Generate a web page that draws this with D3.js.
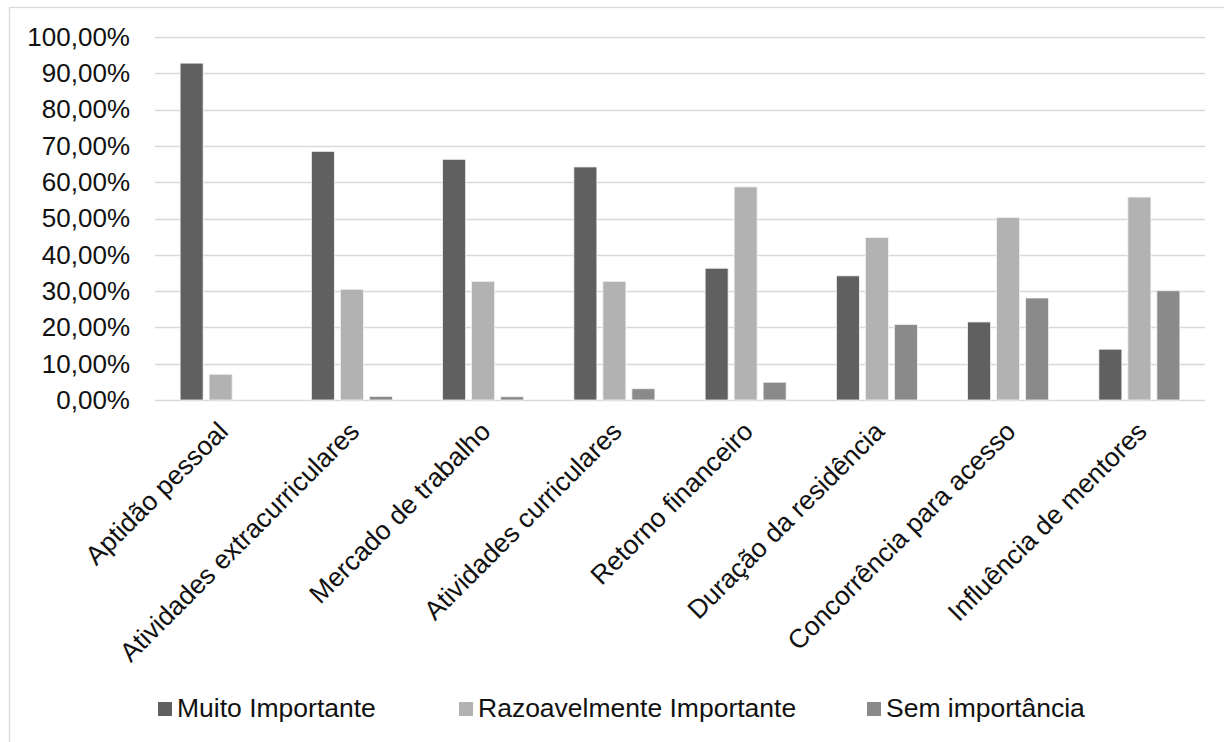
<!DOCTYPE html>
<html>
<head>
<meta charset="utf-8">
<script src="https://cdn.jsdelivr.net/npm/d3@7"></script>
<style>
  html, body { margin: 0; padding: 0; background: #fff; }
  svg { display: block; font-family: "Liberation Sans", Arial, sans-serif; }
</style>
</head>
<body>
<svg id="chart" width="1224" height="742"></svg>
<script>
// Fatores na escolha da especialidade
const categories = [
  "Aptidão pessoal",
  "Atividades extracurriculares",
  "Mercado de trabalho",
  "Atividades curriculares",
  "Retorno financeiro",
  "Duração da residência",
  "Concorrência para acesso",
  "Influência de mentores"
];
const seriesNames = ["Muito Importante", "Razoavelmente Importante", "Sem importância"];
const muitoImportante = [92.8, 68.5, 66.3, 64.2, 36.3, 34.2, 21.5, 14.0];
const razoavelmenteImportante = [7.1, 30.5, 32.7, 32.7, 58.7, 44.8, 50.3, 55.9];
const semImportancia = [0.0, 1.0, 0.9, 3.1, 4.9, 20.8, 28.1, 30.1];
const yTicks = [0, 10, 20, 30, 40, 50, 60, 70, 80, 90, 100];
const seriesColors = ["#606060", "#b2b2b2", "#8a8a8a"];

const seriesValues = [muitoImportante, razoavelmenteImportante, semImportancia];

const svg = d3.select("#chart");
const plot = { left: 155, right: 1205, top: 37, bottom: 400 };

// Chart area border
svg.append("rect")
  .attr("x", 9.5).attr("y", 7.5)
  .attr("width", 1230).attr("height", 760)
  .attr("fill", "#fff")
  .attr("stroke", "#d9d9d9").attr("stroke-width", 1.3);

const y = d3.scaleLinear().domain([0, 100]).range([plot.bottom, plot.top]);
const x0 = d3.scaleBand().domain(categories).range([plot.left, plot.right]).padding(0);
const x1 = d3.scaleBand().domain(seriesNames)
  .range([0, x0.bandwidth()])
  .paddingInner(0.207).paddingOuter(0.866);

const fmt = v => d3.format(".2f")(v).replace(".", ",") + "%";

// Horizontal gridlines
svg.append("g")
  .selectAll("line")
  .data(yTicks)
  .join("line")
  .attr("x1", plot.left).attr("x2", plot.right)
  .attr("y1", d => Math.round(y(d)) + 0.5).attr("y2", d => Math.round(y(d)) + 0.5)
  .attr("stroke", "#d9d9d9").attr("stroke-width", 1.4);

// Y axis labels
const yAxis = d3.axisLeft(y).tickValues(yTicks).tickFormat(fmt).tickSize(0).tickPadding(0);
const yg = svg.append("g").attr("transform", `translate(130,0)`).call(yAxis);
yg.select(".domain").remove();
yg.selectAll("text")
  .attr("font-size", 26)
  .attr("font-family", "Liberation Sans, Arial, sans-serif")
  .attr("fill", "#111");

// Bars
const groups = svg.append("g")
  .selectAll("g")
  .data(categories)
  .join("g")
  .attr("transform", d => `translate(${x0(d)},0)`);

groups.selectAll("rect")
  .data((c, i) => seriesNames.map((s, k) => ({ s, k, v: seriesValues[k][i] })))
  .join("rect")
  .attr("x", d => x1(d.s))
  .attr("width", x1.bandwidth())
  .attr("y", d => y(d.v))
  .attr("height", d => y(0) - y(d.v))
  .attr("fill", d => seriesColors[d.k])
  .attr("stroke", d => d.v > 0 ? "#f2f2f2" : "none")
  .attr("stroke-width", 0.8);

// Category labels, rotated
const xAxis = d3.axisBottom(x0).tickSize(0).tickPadding(0);
const xg = svg.append("g").attr("transform", `translate(0,${plot.bottom})`).call(xAxis);
xg.select(".domain").remove();
xg.selectAll("text")
  .attr("font-size", 26.5)
  .attr("font-family", "Liberation Sans, Arial, sans-serif")
  .attr("fill", "#111")
  .attr("text-anchor", "end")
  .attr("dy", "0.35em")
  .attr("y", 0)
  .attr("transform", "translate(2.5,26.5) rotate(-45)");

// Legend
const legendX = [158, 459, 867];
const legend = svg.append("g")
  .selectAll("g")
  .data(seriesNames)
  .join("g")
  .attr("transform", (d, i) => `translate(${legendX[i]},702)`);
legend.append("rect")
  .attr("width", 14).attr("height", 14)
  .attr("fill", (d, i) => seriesColors[i]);
legend.append("text")
  .attr("x", 19).attr("y", 15)
  .attr("font-size", 26.5)
  .attr("fill", "#111")
  .text(d => d);
</script>
</body>
</html>
